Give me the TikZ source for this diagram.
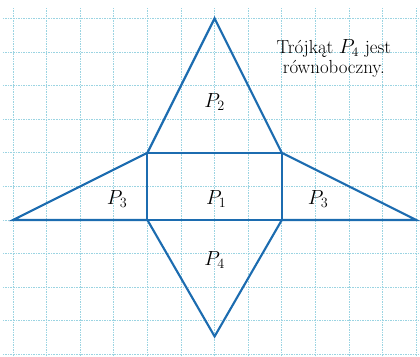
\documentclass[tikz,border=0pt]{standalone}
\definecolor{gridc}{RGB}{155,212,226}
\definecolor{linec}{RGB}{28,108,176}
\begin{document}
\begin{tikzpicture}[
  gridline/.style={draw=gridc,line width=0.7pt,dash pattern=on 0.7pt off 0.7pt},
  edge/.style={draw=linec,line width=1.8pt,line join=miter},
  lbl/.style={font=\fontsize{18}{21}\selectfont},
  note/.style={font=\fontsize{16}{17}\selectfont,align=center}
]
\useasboundingbox (-0.387,-4.048) rectangle (12.113,6.548);
\foreach \i in {0,...,12} \draw[gridline] (\i,-4.048) -- (\i,6.3);
\foreach \j in {-4,...,6} \draw[gridline] (-0.3,\j) -- (12.113,\j);
\coordinate (L) at (0,0);
\coordinate (R) at (12,0);
\coordinate (A) at (4,0);
\coordinate (B) at (8,0);
\coordinate (C) at (8,2);
\coordinate (D) at (4,2);
\coordinate (T) at (6,6);
\coordinate (S) at (6,-3.464);
\draw[edge] (A) -- (B) -- (C) -- (D) -- cycle;
\draw[edge] (D) -- (T) -- (C);
\draw[edge] (A) -- (S) -- (B);
\draw[edge] (A) -- (L) -- (D);
\draw[edge] (B) -- (R) -- (C);
\node[lbl] (p2) at (6,3.5) {$P_2$};
\node[lbl] (p3a) at (3.1,0.62) {$P_3$};
\node[lbl] (p1) at (6.05,0.62) {$P_1$};
\node[lbl] (p3b) at (9.08,0.62) {$P_3$};
\node[lbl] (p4) at (6,-1.2) {$P_4$};
\node[note] (n) at (9.55,4.82) {Trójkąt $P_4$ jest\\równoboczny.};
\end{tikzpicture}
\end{document}
